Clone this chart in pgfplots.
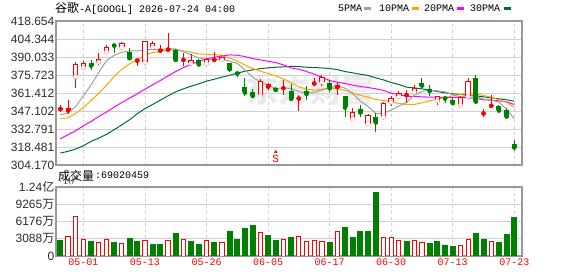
\documentclass[border=0pt]{standalone}
\usepackage{fontspec}
\setmainfont{Liberation Sans}
\newfontfamily\cjk{Noto Sans CJK SC}
\newfontfamily\mono{Liberation Mono}
\usepackage{pgfplots}
\usepackage{pgfplotstable}
\pgfplotsset{compat=1.18}
\definecolor{upred}{HTML}{FF0000}
\definecolor{dngreen}{HTML}{008000}
\definecolor{ma5}{HTML}{A0A0A0}
\definecolor{ma10}{HTML}{FFA500}
\definecolor{ma20}{HTML}{FF00FF}
\definecolor{ma30}{HTML}{006B3C}
\definecolor{gridc}{HTML}{D0D0D0}
\definecolor{framec}{HTML}{999999}
\definecolor{labc}{HTML}{2B2B2B}

% red (up) candles with hollow bodies: i open high low close
\pgfplotstableread{
i o h l c
3 374.50 386.13 365.78 384.55
4 381.64 386.66 379.52 385.08
6 386.13 393.01 384.02 388.51
7 394.07 399.62 392.74 398.03
9 397.77 401.98 396.97 401.20
12 385.87 403.05 385.60 402.53
13 397.77 402.53 396.71 401.20
18 385.08 392.21 383.49 387.72
20 385.08 389.57 384.28 388.78
22 387.72 391.69 386.40 390.36
27 359.16 372.91 358.63 370.80
35 370.00 375.82 367.36 373.97
39 340.92 349.38 340.13 346.21
41 336.95 344.62 336.16 343.83
43 342.24 353.88 341.45 353.35
44 354.14 359.16 350.70 357.58
45 358.63 363.39 357.31 361.28
47 362.07 367.63 360.75 365.78
50 355.20 359.16 351.76 358.63
53 351.76 358.63 351.50 358.10
54 358.63 373.18 358.10 370.80
}\redhollow

% red (up) candles with very small bodies
\pgfplotstableread{
i o h l c
1 348.59 351.76 346.47 349.65
2 347.53 355.99 344.36 349.65
11 387.19 388.51 383.22 387.72
14 395.12 399.35 393.54 396.45
15 395.92 408.87 395.12 396.45
17 387.72 393.54 383.22 388.78
21 387.72 393.80 386.93 388.51
28 366.57 369.74 363.92 368.42
30 365.25 371.86 359.96 365.78
32 357.05 359.43 346.74 357.58
34 368.95 373.18 367.36 369.48
37 366.04 369.21 359.96 367.63
46 359.69 363.92 353.35 360.22
56 345.15 348.59 341.98 345.68
57 351.23 359.69 350.70 352.02
}\redsmall

% green (down) candles
\pgfplotstableread{
i o h l c
5 385.60 387.72 380.05 383.22
8 399.88 400.41 393.01 399.09
10 394.07 396.97 388.78 389.04
16 395.65 396.18 387.19 387.72
19 387.72 388.25 382.43 384.28
23 385.08 385.60 378.47 380.32
24 377.67 378.47 374.50 376.88
25 366.57 373.18 358.63 361.81
26 362.60 364.98 358.63 359.16
29 365.25 366.57 361.81 363.92
31 363.39 368.42 355.99 356.79
33 363.13 367.10 355.46 360.75
36 369.21 371.86 362.60 365.25
38 358.63 359.16 341.98 349.91
40 348.59 352.02 341.98 345.95
42 342.51 345.42 330.08 338.01
48 369.74 373.18 366.57 367.36
49 364.46 367.89 358.63 363.13
51 357.84 359.16 353.35 357.05
52 355.99 357.05 352.29 353.35
55 373.18 375.82 352.55 354.67
58 351.23 351.76 347.27 347.53
59 348.06 349.38 341.71 342.77
60 321.09 324.27 315.01 318.18
}\greencandles

% moving averages
\pgfplotstableread{
i m5 m10 m20 m30
1 344.09 340.92 325.06 313.69
2 345.42 341.71 328.23 315.01
3 350.70 345.15 331.40 316.86
4 359.16 349.91 335.37 319.51
5 367.89 355.46 338.81 322.94
6 377.67 361.28 342.77 325.59
7 387.19 367.63 346.21 328.50
8 391.42 374.50 350.18 332.20
9 393.80 380.32 353.88 336.16
10 394.86 384.55 357.31 340.13
11 394.86 387.72 360.75 344.89
12 395.65 391.69 364.45 349.12
13 396.18 393.54 367.89 352.29
14 395.92 394.60 371.33 355.73
15 396.71 395.65 375.03 359.16
16 396.45 395.65 378.47 362.34
17 394.33 394.86 381.64 364.72
18 391.69 393.80 384.28 366.83
19 389.31 392.48 386.66 368.69
20 388.25 392.21 388.51 370.80
21 387.98 392.21 389.83 372.38
22 388.25 391.16 390.89 373.97
23 386.66 389.04 391.69 375.56
24 385.08 386.93 391.42 377.14
25 379.79 383.49 390.36 378.73
26 373.97 380.84 388.78 379.79
27 370.27 378.73 387.72 380.84
28 367.63 376.88 386.66 381.37
29 364.98 375.03 385.60 381.90
30 365.51 372.65 383.75 382.17
31 364.98 369.48 381.37 382.70
32 362.60 366.30 380.32 382.43
33 361.28 364.45 378.47 381.90
34 362.07 363.66 376.35 381.64
35 363.66 364.45 373.97 381.37
36 365.51 365.25 371.33 380.84
37 367.10 364.98 370.00 380.05
38 365.25 363.39 368.95 378.47
39 360.75 361.55 367.63 377.41
40 354.93 359.43 366.57 376.35
41 350.70 358.10 365.78 375.29
42 345.15 356.26 364.72 373.44
43 345.42 355.46 363.39 371.86
44 347.80 354.40 361.28 369.74
45 350.97 353.08 359.96 368.16
46 354.14 352.29 358.90 366.04
47 359.69 352.29 358.63 365.51
48 362.60 353.61 358.37 364.72
49 363.66 355.20 358.10 363.66
50 363.13 356.52 358.10 362.60
51 362.34 357.84 357.84 361.55
52 359.96 359.16 357.84 360.75
53 358.10 360.22 357.84 360.22
54 359.43 361.28 357.58 359.69
55 358.90 361.02 357.05 359.16
56 356.52 359.43 355.99 358.37
57 355.99 358.10 355.73 357.58
58 354.14 355.99 355.20 356.79
59 348.59 353.88 354.40 355.99
60 340.92 350.18 352.29 354.93
}\mas

% volumes in units of 10^4 shares
\pgfplotstableread{
i v
1 2695
5 2520
8 2344
10 3047
11 2520
13 1992
14 1992
16 3984
18 2520
19 1992
21 2344
23 4453
24 2871
25 4980
26 5508
28 3750
29 2695
31 3223
36 2344
38 5156
39 3398
40 4453
41 4453
42 11367
46 2520
49 2168
50 2520
51 1816
52 1641
55 4101
56 2871
58 2344
59 3926
60 6902
}\volg

\pgfplotstableread{
i v
2 3574
3 7090
4 2988
6 2344
7 2988
9 2168
12 2695
15 2695
17 2988
20 2695
22 2344
27 4277
30 2871
32 3574
33 2520
34 2695
35 2520
37 4453
43 3398
44 3398
45 2695
47 2695
48 2344
53 1816
54 2871
57 2520
}\volr

\pgfplotsset{
  kchart/.style={
    scale only axis, width=466bp,
    xmin=0.44, xmax=61,
    xtick={4,12,20,28,36,44,52,60},
    xmajorgrids, ymajorgrids,
    x grid style={gridc, line width=0.8bp, dash pattern=on 3bp off 3bp},
    y grid style={gridc, line width=0.9bp},
    major tick length=0pt,
    axis line style={framec, line width=1.4bp},
    yticklabel style={font=\fontsize{12bp}{14bp}\selectfont, text=labc, inner sep=1.5bp},
  },
  wick/.style={#1, only marks, mark=none, forget plot,
    error bars/y dir=both, error bars/y explicit, error bars/error mark=none,
    error bars/error bar style={line width=1bp, draw=#1, color=#1}},
  body/.style 2 args={#1, only marks, mark=none, forget plot,
    error bars/y dir=plus, error bars/y explicit, error bars/error mark=none,
    error bars/error bar style={line width=#2, draw=#1, color=#1}},
}

\begin{document}
\begin{tikzpicture}
\useasboundingbox (0,0) rectangle (578bp,276bp);
% watermark
\node[text=black!8, font={\cjk\bfseries\fontsize{32bp}{34bp}\selectfont}] at (310bp,186bp) {东方财富};

% title and legend
\node[anchor=west, inner sep=0pt, text=black] at (55bp,268bp)
  {{\cjk\fontsize{12bp}{14bp}\selectfont 谷歌}{\mono\fontsize{10bp}{12bp}\selectfont -A[GOOGL] 2026-07-24 04:00}};
\node[anchor=west, inner sep=0pt, text=black, font={\mono\fontsize{10bp}{12bp}\selectfont}] at (338bp,268bp)
  {5PMA\hspace{2bp}\textcolor{ma5}{\rule[1.5bp]{7bp}{3bp}}\hspace{8bp}10PMA\hspace{3bp}\textcolor{ma10}{\rule[1.5bp]{7bp}{3bp}}\hspace{5bp}20PMA\hspace{3bp}\textcolor{ma20}{\rule[1.5bp]{7bp}{3bp}}\hspace{6bp}30PMA\hspace{4bp}\textcolor{ma30}{\rule[1.5bp]{7bp}{3bp}}};
\node[anchor=west, inner sep=0pt, text=black, font={\cjk\fontsize{12bp}{13bp}\selectfont}] (vt) at (58bp,100.5bp) {成交量};
\node[anchor=west, inner sep=0pt, text=black, font={\mono\fontsize{10bp}{12bp}\selectfont}] at ([xshift=0.5bp]vt.east) {:69020459};

% price panel
\begin{axis}[kchart,
  at={(56bp,111bp)}, anchor=south west, height=144bp,
  ymin=304.170, ymax=418.654,
  xticklabels={},
  ytick={304.170,318.481,332.791,347.102,361.412,375.723,390.033,404.344,418.654},
  yticklabels={304.170,318.481,332.791,347.102,361.412,375.723,390.033,404.344,418.654},
]
\addplot[ma30, line width=1bp] table[x=i, y=m30] {\mas};
\addplot[ma20, line width=1bp] table[x=i, y=m20] {\mas};
\addplot[ma10, line width=1bp] table[x=i, y=m10] {\mas};
\addplot[ma5, line width=1bp] table[x=i, y=m5] {\mas};

% green candles
\addplot[wick=dngreen] table[x=i, y=c, y error plus expr=\thisrow{h}-\thisrow{c}, y error minus expr=\thisrow{c}-\thisrow{l}] {\greencandles};
\addplot[body={dngreen}{5bp}] table[x=i, y=c, y error plus expr=\thisrow{o}-\thisrow{c}] {\greencandles};
% small red candles
\addplot[wick=upred] table[x=i, y=o, y error plus expr=\thisrow{h}-\thisrow{o}, y error minus expr=\thisrow{o}-\thisrow{l}] {\redsmall};
\addplot[body={upred}{5bp}] table[x=i, y=o, y error plus expr=\thisrow{c}-\thisrow{o}] {\redsmall};
% hollow red candles
\addplot[wick=upred] table[x=i, y=o, y error plus expr=\thisrow{h}-\thisrow{o}, y error minus expr=\thisrow{o}-\thisrow{l}] {\redhollow};
\addplot[body={upred}{5.4bp}] table[x=i, y=o, y error plus expr=\thisrow{c}-\thisrow{o}] {\redhollow};
\addplot[body={white}{3.4bp}, error bars/error bar style={shorten <=1bp, shorten >=1bp}]
  table[x=i, y=o, y error plus expr=\thisrow{c}-\thisrow{o}] {\redhollow};

% S marker
\addplot[only marks, mark=triangle*, mark size=1.6bp, upred, forget plot] coordinates {(29,314.6)};
\addplot[only marks, mark=none, forget plot, nodes near coords, point meta=explicit symbolic,
  nodes near coords style={text=upred, anchor=center, font=\mono\fontsize{11bp}{12bp}\selectfont}]
  coordinates {(29,309.0) [S]};
\end{axis}

% volume panel
\begin{axis}[kchart,
  at={(56bp,20bp)}, anchor=south west, height=69bp,
  ymin=0, ymax=12353,
  xticklabels={05-01,05-13,05-26,06-05,06-17,06-30,07-13,07-23},
  xticklabel style={font=\mono\fontsize{10bp}{12bp}\selectfont, text=upred, inner sep=1bp, yshift=-2bp},
  ytick={0,3088,6176,9265,12353},
  yticklabels={0,{3088{\cjk 万}},{6176{\cjk 万}},{9265{\cjk 万}},{1.24{\cjk 亿}}},
]
\addplot[ybar, bar width=5bp, fill=dngreen, draw=dngreen, line width=0pt] table[x=i, y=v] {\volg};
\addplot[ybar, bar width=4.2bp, fill=white, draw=upred, line width=1bp] table[x=i, y=v] {\volr};
\end{axis}
\end{tikzpicture}
\end{document}
